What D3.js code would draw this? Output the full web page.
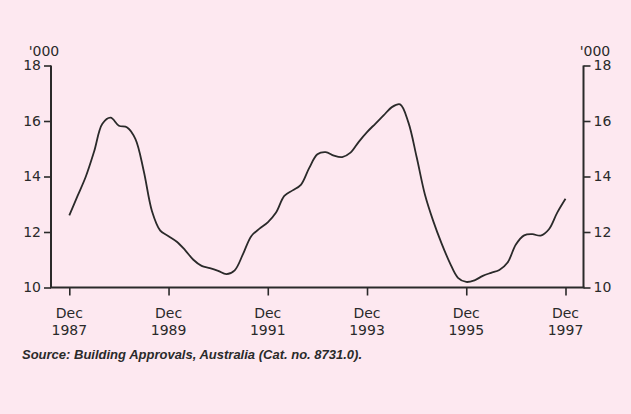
<!DOCTYPE html>
<html>
<head>
<meta charset="utf-8">
<script src="https://cdn.jsdelivr.net/npm/d3@7"></script>
<style>
  html, body { margin: 0; padding: 0; background: #fde8f0; }
  svg { display: block; }
</style>
</head>
<body>
<div id="chart"></div>
<script>
const pink = "#fde8f0";
const ink = "#2a2a2a";

// months since Dec 1987, two-monthly trend readings ('000)
const months = [0, 2, 4, 6, 8, 10, 12, 14, 16, 18, 20, 22, 24, 26, 28, 30, 32, 34, 36, 38,
    40, 42, 44, 46, 48, 50, 52, 54, 56, 58, 60, 62, 64, 66, 68, 70, 72, 74, 76, 78,
    80, 82, 84, 86, 88, 90, 92, 94, 96, 98, 100, 102, 104, 106, 108, 110, 112, 114, 116, 118, 120];
const approvals = [12.6, 13.3, 14.0, 14.9, 15.9, 16.12, 15.83, 15.77, 15.35, 14.2, 12.75, 12.05, 11.85, 11.65, 11.35, 11.0, 10.78, 10.7, 10.6, 10.48,
    10.62, 11.2, 11.85, 12.12, 12.35, 12.7, 13.3, 13.5, 13.7, 14.3, 14.8, 14.88, 14.75, 14.7, 14.86, 15.25, 15.6, 15.9, 16.2, 16.5,
    16.6, 15.95, 14.7, 13.35, 12.4, 11.6, 10.9, 10.35, 10.2, 10.26, 10.42, 10.53, 10.63, 10.9, 11.55, 11.88, 11.92, 11.87, 12.1, 12.7, 13.2];

const tickMonths = [0, 24, 48, 72, 96, 120];
const tickYears = ["1987", "1989", "1991", "1993", "1995", "1997"];
const yTicks = [10, 12, 14, 16, 18];

const width = 631, height = 414;
const svg = d3.select("#chart").append("svg")
    .attr("width", width)
    .attr("height", height)
    .style("background-color", pink);

const x = d3.scaleLinear().domain([0, 120]).range([69.3, 565.5]);
const y = d3.scaleLinear().domain([10, 18]).range([287.5, 65.5]);
const left = 51, right = 583.5;

const font = "'DejaVu Sans', sans-serif";

// left axis
const yLeft = svg.append("g")
    .attr("transform", `translate(${left},0)`)
    .call(d3.axisLeft(y).tickValues(yTicks).tickSize(7).tickPadding(3));
// right axis
const yRight = svg.append("g")
    .attr("transform", `translate(${right},0)`)
    .call(d3.axisRight(y).tickValues(yTicks).tickSize(7).tickPadding(3));
// bottom axis
const xAxis = svg.append("g")
    .attr("transform", `translate(0,${y(10)})`)
    .call(d3.axisBottom(x).tickValues(tickMonths).tickSize(8).tickFormat(""));

[yLeft, yRight, xAxis].forEach(g => {
    g.select(".domain").remove();
    g.selectAll("line").attr("stroke", ink).attr("stroke-width", 1.6);
    g.selectAll("text").attr("fill", ink).style("font-family", font).style("font-size", "14px");
});

svg.append("line")
    .attr("x1", left).attr("x2", left).attr("y1", y(18)).attr("y2", y(10))
    .attr("stroke", ink).attr("stroke-width", 2);
svg.append("line")
    .attr("x1", right).attr("x2", right).attr("y1", y(18)).attr("y2", y(10))
    .attr("stroke", ink).attr("stroke-width", 2);
svg.append("line")
    .attr("x1", left - 1).attr("x2", right + 1).attr("y1", y(10)).attr("y2", y(10))
    .attr("stroke", ink).attr("stroke-width", 2);

// x tick labels, two lines
const xl = svg.append("g").selectAll("text")
    .data(tickMonths)
    .enter().append("text")
    .attr("x", d => x(d))
    .attr("text-anchor", "middle")
    .style("font-family", font)
    .style("font-size", "14px")
    .attr("fill", ink);
xl.append("tspan").attr("x", d => x(d)).attr("y", 318).text("Dec");
xl.append("tspan").attr("x", d => x(d)).attr("y", 335).text((d, i) => tickYears[i]);

// unit labels
svg.append("text")
    .attr("x", 44).attr("y", 56)
    .attr("text-anchor", "middle")
    .style("font-family", font).style("font-size", "14px")
    .attr("fill", ink)
    .text("'000");
svg.append("text")
    .attr("x", 595).attr("y", 56)
    .attr("text-anchor", "middle")
    .style("font-family", font).style("font-size", "14px")
    .attr("fill", ink)
    .text("'000");

// series
const line = d3.line()
    .x((d, i) => x(months[i]))
    .y(d => y(d))
    .curve(d3.curveCatmullRom.alpha(0.5));

svg.append("path")
    .datum(approvals)
    .attr("d", line)
    .attr("fill", "none")
    .attr("stroke", ink)
    .attr("stroke-width", 1.8)
    .attr("stroke-linejoin", "round");

// source note
svg.append("text")
    .attr("x", 22).attr("y", 359)
    .style("font-family", "'Liberation Sans', Arial, sans-serif")
    .style("font-size", "13px")
    .style("font-style", "italic")
    .style("font-weight", "bold")
    .attr("fill", ink)
    .text("Source: Building Approvals, Australia (Cat. no. 8731.0).");
</script>
</body>
</html>
